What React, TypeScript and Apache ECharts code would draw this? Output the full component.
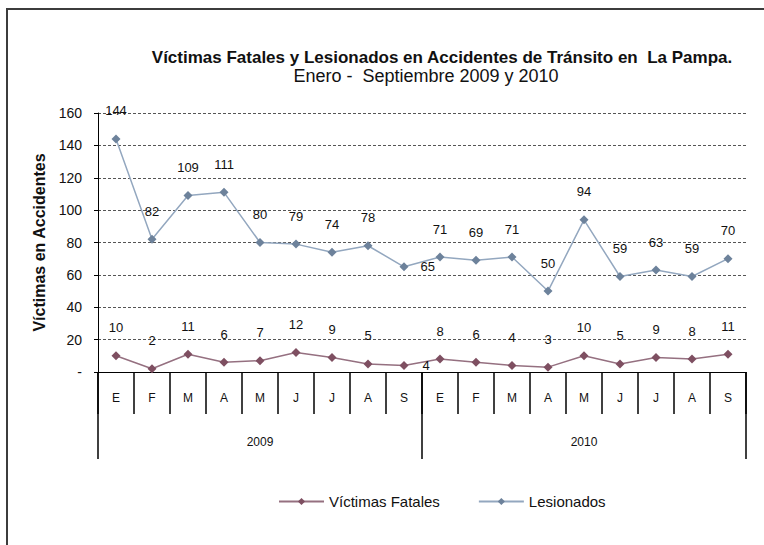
import React, { useEffect, useRef } from "react";
import * as echarts from "echarts";

const months = ["E", "F", "M", "A", "M", "J", "J", "A", "S", "E", "F", "M", "A", "M", "J", "J", "A", "S"];
const years = ["2009", "2010"];
const fatales = [10, 2, 11, 6, 7, 12, 9, 5, 4, 8, 6, 4, 3, 10, 5, 9, 8, 11];
const lesionados = [144, 82, 109, 111, 80, 79, 74, 78, 65, 71, 69, 71, 50, 94, 59, 63, 59, 70];
const rightLabelIndex = 8;

const FONT = "'Liberation Sans', Arial, sans-serif";

function buildData(values: number[], rightDist: number) {
  return values.map((v, i) =>
    i === rightLabelIndex
      ? { value: v, label: { position: "right", distance: rightDist } }
      : { value: v }
  );
}

export default function App() {
  const ref = useRef<HTMLDivElement>(null);
  useEffect(() => {
    if (!ref.current) return;
    const chart = echarts.init(ref.current, undefined, { renderer: "svg" });
    chart.setOption({
      animation: false,
      backgroundColor: "#ffffff",
      textStyle: { fontFamily: FONT },
      graphic: [
        {
          type: "rect",
          shape: { x: 7, y: 9, width: 900, height: 700 },
          style: { fill: "none", stroke: "#3c3c3c", lineWidth: 2 },
          silent: true,
        },
        {
          type: "text",
          x: 442,
          y: 57,
          style: {
            text: "Víctimas Fatales y Lesionados en Accidentes de Tránsito en  La Pampa.",
            fontFamily: FONT,
            fontSize: 17,
            fontWeight: "bold",
            fill: "#111",
            textAlign: "center",
            textVerticalAlign: "middle",
          },
        },
        {
          type: "text",
          x: 426,
          y: 76,
          style: {
            text: "Enero -  Septiembre 2009 y 2010",
            fontFamily: FONT,
            fontSize: 18,
            fill: "#111",
            textAlign: "center",
            textVerticalAlign: "middle",
          },
        },
      ],
      legend: {
        left: 273,
        top: 489,
        itemWidth: 45,
        itemHeight: 9,
        itemGap: 38,
        textStyle: { fontFamily: FONT, fontSize: 15, color: "#111" },
        data: ["Víctimas Fatales", "Lesionados"],
      },
      grid: { left: 98, right: 18, top: 113, bottom: 173, containLabel: false },
      xAxis: [
        {
          type: "category",
          data: months,
          position: "bottom",
          boundaryGap: true,
          axisLine: { show: true, lineStyle: { color: "#000", width: 1 } },
          axisTick: { show: true, length: 42, interval: 0, lineStyle: { color: "#000", width: 1.5 } },
          axisLabel: { interval: 0, margin: 20, fontSize: 12, color: "#111", fontFamily: FONT },
          splitLine: { show: false },
        },
        {
          type: "category",
          data: years,
          position: "bottom",
          boundaryGap: true,
          axisLine: { show: false },
          axisTick: { show: true, length: 87, interval: 0, lineStyle: { color: "#000", width: 1.5 } },
          axisLabel: { interval: 0, margin: 64, fontSize: 12, color: "#111", fontFamily: FONT },
          splitLine: { show: false },
        },
      ],
      yAxis: {
        type: "value",
        min: 0,
        max: 160,
        interval: 20,
        name: "Víctimas en Accidentes",
        nameLocation: "middle",
        nameGap: 48,
        nameTextStyle: { fontFamily: FONT, fontSize: 16, fontWeight: "bold", color: "#111" },
        axisLine: { show: true, lineStyle: { color: "#000", width: 1 } },
        axisTick: { show: true, length: 4, lineStyle: { color: "#000" } },
        axisLabel: {
          margin: 16,
          fontSize: 14,
          color: "#111",
          fontFamily: FONT,
          formatter: (v: number) => (v === 0 ? "-" : String(v)),
        },
        splitLine: { show: true, lineStyle: { color: "#555", type: [3, 2], width: 1 } },
      },
      series: [
        {
          name: "Víctimas Fatales",
          type: "line",
          data: buildData(fatales, 14),
          symbol: "diamond",
          symbolSize: 9,
          lineStyle: { color: "#957080", width: 1.5 },
          itemStyle: { color: "#7e4f61" },
          label: { show: true, position: "top", distance: 17, fontSize: 13, color: "#111", fontFamily: FONT },
        },
        {
          name: "Lesionados",
          type: "line",
          data: buildData(lesionados, 12),
          symbol: "diamond",
          symbolSize: 9,
          lineStyle: { color: "#93a7bf", width: 1.5 },
          itemStyle: { color: "#6d829b" },
          label: { show: true, position: "top", distance: 17, fontSize: 13, color: "#111", fontFamily: FONT },
        },
      ],
    });
    return () => chart.dispose();
  }, []);
  return <div ref={ref} style={{ position: "fixed", left: 0, top: 0, width: 764, height: 545 }} />;
}
